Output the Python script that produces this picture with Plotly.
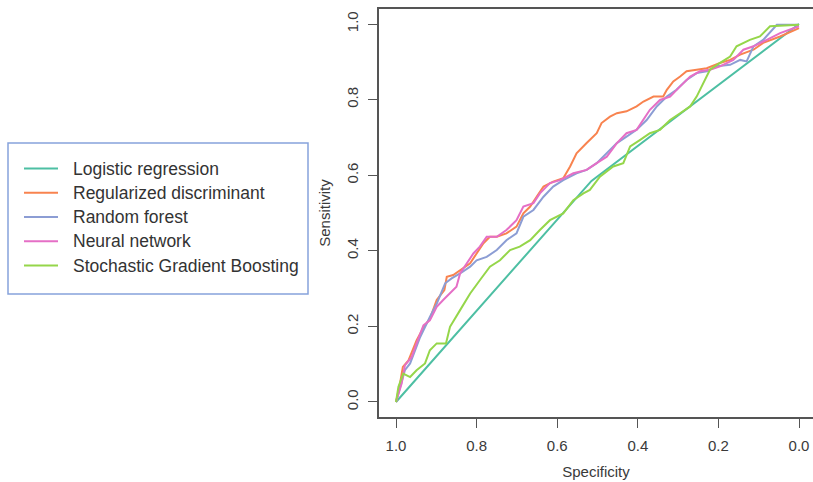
import plotly.graph_objects as go

# ROC curves: specificity (x, reversed) vs sensitivity (y)
models = ["Logistic regression", "Regularized discriminant", "Random forest",
          "Neural network", "Stochastic Gradient Boosting"]
colors = ["#4DBFA3", "#F8834F", "#8C9DD4", "#E56FC6", "#95D64A"]

spec_logistic = [1.0, 0.515, 0.0]
sens_logistic = [0.0, 0.585, 1.0]

spec_rda = [1.0, 0.99, 0.983, 0.969, 0.949, 0.93, 0.916, 0.899, 0.88, 0.874, 0.858,
            0.841, 0.816, 0.8, 0.783, 0.767, 0.75, 0.726, 0.701, 0.684, 0.667, 0.651,
            0.634, 0.61, 0.585, 0.568, 0.552, 0.527, 0.502, 0.49, 0.469, 0.452, 0.428,
            0.403, 0.386, 0.361, 0.337, 0.328, 0.312, 0.295, 0.279, 0.254, 0.229,
            0.196, 0.171, 0.146, 0.113, 0.089, 0.047, 0.0]
sens_rda = [0.0, 0.049, 0.093, 0.11, 0.163, 0.2, 0.22, 0.27, 0.296, 0.331, 0.336,
            0.349, 0.367, 0.393, 0.42, 0.437, 0.437, 0.446, 0.464, 0.499, 0.517, 0.543,
            0.57, 0.583, 0.592, 0.623, 0.658, 0.685, 0.711, 0.738, 0.755, 0.764, 0.769,
            0.782, 0.795, 0.808, 0.808, 0.826, 0.848, 0.861, 0.875, 0.879, 0.883,
            0.897, 0.905, 0.919, 0.932, 0.95, 0.967, 0.989]

spec_rf = [1.0, 0.99, 0.978, 0.965, 0.94, 0.916, 0.899, 0.878, 0.862, 0.841, 0.816,
           0.8, 0.775, 0.75, 0.726, 0.701, 0.684, 0.659, 0.634, 0.61, 0.585, 0.552,
           0.527, 0.502, 0.477, 0.452, 0.428, 0.403, 0.378, 0.353, 0.328, 0.304,
           0.279, 0.254, 0.229, 0.204, 0.171, 0.146, 0.13, 0.113, 0.089, 0.055, 0.0]
sens_rf = [0.0, 0.04, 0.084, 0.102, 0.172, 0.225, 0.26, 0.314, 0.327, 0.34, 0.358,
           0.375, 0.384, 0.402, 0.428, 0.446, 0.49, 0.508, 0.543, 0.57, 0.587, 0.605,
           0.614, 0.632, 0.658, 0.685, 0.702, 0.72, 0.746, 0.782, 0.808, 0.826,
           0.852, 0.87, 0.875, 0.888, 0.892, 0.905, 0.901, 0.941, 0.958, 0.998, 0.998]

spec_nn = [1.0, 0.986, 0.978, 0.961, 0.949, 0.932, 0.916, 0.899, 0.883, 0.866, 0.85,
           0.841, 0.825, 0.808, 0.792, 0.775, 0.75, 0.726, 0.701, 0.684, 0.659, 0.643,
           0.618, 0.593, 0.56, 0.527, 0.502, 0.477, 0.452, 0.428, 0.403, 0.386, 0.37,
           0.345, 0.32, 0.295, 0.27, 0.246, 0.221, 0.196, 0.163, 0.138, 0.113, 0.08,
           0.047, 0.0]
sens_nn = [0.0, 0.049, 0.097, 0.119, 0.155, 0.203, 0.216, 0.252, 0.27, 0.287, 0.305,
           0.34, 0.367, 0.393, 0.411, 0.437, 0.437, 0.455, 0.481, 0.517, 0.526, 0.552,
           0.579, 0.587, 0.605, 0.614, 0.632, 0.649, 0.685, 0.711, 0.72, 0.746, 0.773,
           0.799, 0.808, 0.835, 0.861, 0.875, 0.879, 0.888, 0.905, 0.932, 0.941, 0.958,
           0.976, 0.994]

spec_sgb = [1.0, 0.994, 0.982, 0.965, 0.949, 0.928, 0.916, 0.899, 0.876, 0.866, 0.841,
            0.816, 0.792, 0.767, 0.742, 0.717, 0.693, 0.667, 0.643, 0.618, 0.585, 0.56,
            0.535, 0.519, 0.494, 0.461, 0.436, 0.419, 0.395, 0.37, 0.345, 0.32, 0.295,
            0.27, 0.254, 0.237, 0.221, 0.196, 0.171, 0.155, 0.122, 0.097, 0.072, 0.0]
sens_sgb = [0.0, 0.04, 0.075, 0.066, 0.084, 0.102, 0.137, 0.155, 0.155, 0.199, 0.243,
            0.287, 0.322, 0.358, 0.375, 0.402, 0.411, 0.428, 0.455, 0.481, 0.499, 0.534,
            0.552, 0.561, 0.596, 0.623, 0.632, 0.676, 0.693, 0.711, 0.72, 0.746, 0.764,
            0.782, 0.808, 0.844, 0.879, 0.897, 0.914, 0.941, 0.958, 0.967, 0.994, 0.998]

xs = [spec_logistic, spec_rda, spec_rf, spec_nn, spec_sgb]
ys = [sens_logistic, sens_rda, sens_rf, sens_nn, sens_sgb]

tick_vals = [0.0, 0.2, 0.4, 0.6, 0.8, 1.0]
tick_text = ["0.0", "0.2", "0.4", "0.6", "0.8", "1.0"]

W, H = 813, 482
L, R, T, B = 379, 0, 9, 65
FONT = "Liberation Sans, Arial, Helvetica, sans-serif"

fig = go.Figure()
for name, col, x, y in zip(models, colors, xs, ys):
    fig.add_trace(go.Scatter(x=x, y=y, mode="lines", name=name,
                             line=dict(color=col, width=2), showlegend=False))

axis_common = dict(
    tickmode="array", tickvals=tick_vals, ticktext=tick_text,
    ticks="outside", ticklen=9, tickwidth=1.2, tickcolor="#555",
    showgrid=False, zeroline=False, showline=True, linecolor="#555", linewidth=1.5,
    tickfont=dict(family=FONT, size=15, color="#3a3a3a"),
    automargin=False,
)

fig.update_xaxes(range=[1.0422, -0.0347], mirror=True, ticklabelstandoff=5,
                 title=dict(text="Specificity", font=dict(family=FONT, size=15, color="#3a3a3a"),
                            standoff=14),
                 **axis_common)
fig.update_yaxes(range=[-0.0397, 1.0397], mirror=False, tickangle=-90, ticklabelstandoff=4,
                 title=dict(text="Sensitivity", font=dict(family=FONT, size=15, color="#3a3a3a"),
                            standoff=10),
                 **axis_common)

# legend box drawn in pixel space, converted to paper coordinates
pw, ph = W - L - R, H - T - B
def px(xp):
    return (xp - L) / pw
def py(yp):
    return (H - B - yp) / ph

shapes = [dict(type="rect", xref="paper", yref="paper",
               x0=px(8), x1=px(308), y0=py(294), y1=py(143),
               line=dict(color="#86A3DB", width=1.5), fillcolor="white", layer="above")]
annotations = []
rows = [168.5, 192.7, 217.0, 241.2, 265.5]
for name, col, ry in zip(models, colors, rows):
    shapes.append(dict(type="line", xref="paper", yref="paper",
                       x0=px(24), x1=px(58), y0=py(ry), y1=py(ry),
                       line=dict(color=col, width=2), layer="above"))
    annotations.append(dict(xref="paper", yref="paper", x=px(71), y=py(ry),
                            xanchor="left", yanchor="middle", showarrow=False,
                            text=name, font=dict(family=FONT, size=17.5, color="#333")))

fig.update_layout(
    width=W, height=H,
    margin=dict(l=L, r=R, t=T, b=B),
    paper_bgcolor="white", plot_bgcolor="white",
    shapes=shapes, annotations=annotations,
)

fig.write_html("out.html")
